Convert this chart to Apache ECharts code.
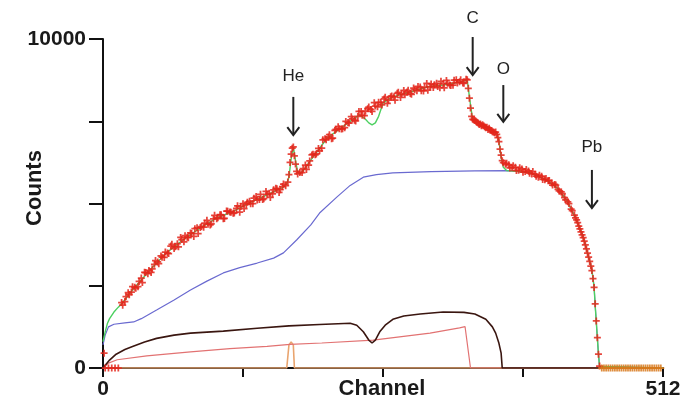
<!DOCTYPE html>
<html>
<head>
<meta charset="utf-8">
<script src="https://cdn.jsdelivr.net/npm/echarts@6/dist/echarts.min.js"></script>
<style>
  html, body { margin: 0; padding: 0; background: #ffffff; }
  #chart { width: 689px; height: 404px; }
</style>
</head>
<body>
<div id="chart"></div>
<script>
// RBS spectrum: measured counts per channel and simulated element contributions.

// Axis ticks (only the ends carry labels)
const xTicks = { min: 0, max: 512, step: 128, labels: ['0', '512'] };
const yTicks = { min: 0, max: 10000, step: 2500, labels: ['0', '10000'] };
const xTitle = 'Channel';
const yTitle = 'Counts';

// Measured spectrum [channel, counts]
const measured = [
  [1,450],[2,0],[5,0],[8,0],[11,0],[14,0],
  [17,1990],[18,1910],[20,2020],[21,2170],[23,2290],[24,2230],[26,2310],[27,2470],[29,2455],[30,2425],
  [32,2470],[33,2630],[35,2735],[36,2595],[38,2910],[39,2900],[41,2865],[42,2965],[44,2905],[45,3010],
  [47,3150],[48,3265],[50,3225],[51,3170],[53,3405],[54,3370],[56,3360],[57,3525],[59,3495],[60,3480],
  [62,3705],[63,3760],[65,3630],[66,3685],[68,3780],[69,3685],[71,3970],[72,3905],[74,3835],[75,4020],
  [77,3975],[78,3960],[80,4105],[81,4090],[83,4000],[84,4235],[86,4260],[87,4085],[89,4270],[90,4300],
  [92,4280],[93,4400],[95,4490],[96,4370],[98,4350],[99,4380],[101,4530],[102,4640],[104,4540],[105,4565],
  [107,4660],[108,4655],[110,4540],[111,4545],[113,4770],[114,4765],[116,4740],[117,4735],[119,4700],
  [120,4715],[122,4850],[123,4930],[125,4735],[126,4910],[128,4995],[129,4845],[131,4970],[132,5035],
  [134,5070],[135,4995],[137,4995],[138,5160],[140,5210],[141,5105],[143,5125],[144,5280],[146,5120],
  [147,5145],[149,5365],[150,5280],[152,5310],[153,5185],[155,5290],[156,5415],[158,5460],[159,5445],
  [161,5335],[162,5420],[164,5515],[165,5590],[167,5540],[169,5650],[170,5880],[171,6250],[172,6500],
  [173,6680],[174,6720],[175,6450],[176,6200],[177,5980],[178,5900],[180,5940],
  [182,5940],[183,6060],[185,6170],[186,6035],[188,6170],[189,6295],[191,6475],[192,6500],[194,6480],
  [195,6505],[197,6675],[198,6600],[200,6680],[201,6935],[203,6970],[204,6935],[206,7025],[207,7090],
  [209,6970],[210,6985],[212,7220],[213,7255],[215,7335],[216,7270],[218,7265],[219,7270],[221,7305],
  [222,7495],[224,7460],[225,7445],[227,7640],[228,7570],[230,7530],[231,7510],[233,7645],[234,7800],
  [236,7800],[237,7680],[239,7670],[240,7810],[242,7880],[243,7930],[245,7860],[246,7800],[248,8065],
  [249,7960],[251,7940],[252,8075],[254,8070],[255,7995],[257,8180],[258,8230],[260,8045],[261,8140],
  [263,8245],[264,8270],[266,8240],[267,8140],[269,8350],[270,8380],[272,8225],[273,8335],[275,8435],
  [276,8305],[278,8390],[279,8440],[281,8340],[282,8320],[284,8510],[285,8460],[287,8430],[288,8560],
  [290,8540],[291,8430],[293,8420],[294,8530],[296,8650],[297,8445],[299,8550],[300,8635],[302,8525],
  [303,8610],[305,8655],[306,8560],[308,8520],[309,8715],[311,8640],[312,8515],[314,8740],[315,8655],
  [317,8605],[318,8590],[320,8595],[321,8750],[323,8760],[324,8665],[326,8700],[327,8760],[329,8665],
  [330,8655],[332,8780],
  [333,8760],[334,8500],[335,8200],[336,7900],[337,7650],[338,7560],[339,7540],[340,7520],[341,7500],
  [342,7470],[343,7450],[344,7400],[345,7420],[346,7360],[347,7390],[348,7360],[349,7330],[350,7300],
  [351,7320],[352,7250],[353,7290],[354,7230],[355,7220],[356,7180],[357,7170],[358,7150],[359,7170],
  [360,7100],[361,7000],[362,6880],[363,6650],[364,6470],[365,6300],[366,6240],[368,6190],[369,6220],
  [371,6180],[372,6080],[374,6090],[375,6150],[377,6100],[378,6000],[380,6010],[381,6090],[383,6050],
  [384,5950],[386,5970],[387,6030],[389,5990],[390,5920],[392,5900],[393,5970],[395,5890],[396,5830],
  [398,5800],[399,5860],[401,5830],[402,5730],[404,5720],[405,5760],[407,5690],[408,5700],[410,5620],
  [411,5560],[413,5580],[414,5560],[416,5430],[417,5380],[419,5350],[420,5300],[422,5180],[423,5110],
  [425,5050],[426,5000],[428,4830],[429,4780],[431,4650],[432,4560],[433,4500],[434,4420],[435,4310],
  [436,4230],[437,4140],[438,4050],[439,3960],[440,3860],[441,3740],[442,3620],[443,3490],[444,3370],
  [445,3240],[446,3100],[447,2960],[448,2720],[449,2450],[450,1950],[451,1430],[452,920],[453,420],
  [454,60],
  [456,0],[458,0],[460,0],[462,0],[464,0],[466,0],[468,0],[470,0],[472,0],[474,0],[476,0],[478,0],
  [480,0],[482,0],[484,0],[486,0],[488,0],[490,0],[492,0],[494,0],[496,0],[498,0],[500,0],[502,0],
  [504,0],[506,0],[508,0],[510,0]
];

// Simulated total spectrum
const simTotal = [
  [0,800],[2,1100],[4,1350],[6,1500],[10,1700],[14,1850],[17,1950],[27,2370],[43,2980],[58,3500],
  [73,3890],[89,4260],[104,4560],[119,4760],[134,5020],[150,5260],[165,5500],[168,5600],[170,5800],
  [172,6350],[174,6720],[176,6300],[178,5950],[180,5900],[183,6000],[192,6410],[205,6990],[219,7330],
  [232,7640],[235,7690],[240,7560],[243,7450],[246,7390],[249,7450],[252,7650],[256,8050],[260,8150],
  [265,8240],[281,8390],[296,8540],[311,8600],[326,8690],[333,8750],[334,8500],[336,8000],[338,7540],
  [351,7300],[360,7140],[362,6900],[364,6400],[366,6100],[369,6000],[375,5990],[390,5940],[406,5700],
  [415,5480],[424,5100],[433,4500],[439,3980],[443,3500],[447,2980],[449,2460],[450,1900],[451,1400],
  [452,900],[453,420],[454,50],[455,0],[512,0]
];

// Simulated Pb contribution
const simPb = [
  [0,700],[2,1000],[5,1250],[10,1330],[20,1370],[28,1400],[35,1500],[49,1760],[65,2070],[80,2370],
  [95,2640],[110,2890],[125,3050],[141,3190],[156,3340],[165,3500],[177,3890],[190,4350],[198,4710],
  [214,5200],[226,5550],[238,5800],[250,5880],[265,5930],[300,5970],[340,5990],[369,6000],[375,5990],
  [390,5940],[406,5700],[415,5480],[424,5100],[433,4500],[439,3980],[443,3500],[447,2980],[449,2460],
  [450,1900],[451,1400],[452,900],[453,420],[454,50],[455,0],[512,0]
];

// Simulated O contribution
const simO = [
  [0,0],[3,120],[6,240],[12,420],[20,560],[27,650],[38,790],[49,900],[65,1000],[80,1060],[110,1120],
  [141,1210],[170,1280],[198,1320],[226,1360],[232,1300],[238,1100],[243,850],[246,760],[249,850],
  [253,1100],[258,1300],[265,1480],[275,1580],[290,1640],[311,1700],[330,1690],[340,1640],[350,1480],
  [356,1250],[359,1060],[362,750],[364,450],[365,0],[512,0]
];

// Simulated C contribution
const simC = [
  [0,0],[5,150],[13,250],[40,370],[80,490],[116,590],[150,660],[171,720],[200,760],[247,850],
  [299,1060],[326,1220],[331,1260],[336,0],[512,0]
];

// Simulated He contribution
const simHe = [
  [0,0],[168,0],[169,0],[170,700],[172,790],[174,700],[175,0],[512,0]
];

// Element markers: label, channel, arrow start/end and label height in counts
const markers = [
  { name: 'He', ch: 174, from: 8240, to: 7080, textAt: 8880 },
  { name: 'C',  ch: 338, from: 10060, to: 8900, textAt: 10620 },
  { name: 'O',  ch: 366, from: 8600, to: 7480, textAt: 9080 },
  { name: 'Pb', ch: 447, from: 6020, to: 4860, textAt: 6700 }
];

const FONT = '"Liberation Sans", Arial, Helvetica, sans-serif';
const plusSymbol = 'path://M3,0H5V3H8V5H5V8H3V5H0V3H3Z';

const chart = echarts.init(document.getElementById('chart'), null, { renderer: 'canvas' });

const option = {
  backgroundColor: '#ffffff',
  animation: false,
  grid: { left: 103, right: 26, top: 39, bottom: 36, containLabel: false, outerBoundsMode: 'none' },
  xAxis: {
    type: 'value',
    min: xTicks.min, max: xTicks.max, interval: xTicks.step,
    axisLine: { onZero: false, lineStyle: { color: '#111111', width: 2 } },
    axisTick: { show: true, length: 9, lineStyle: { color: '#111111', width: 2 } },
    axisLabel: {
      margin: 11,
      fontFamily: FONT, fontWeight: 'bold', fontSize: 21, color: '#1a1a1a',
      formatter: v => (v === xTicks.min ? xTicks.labels[0] : (v === xTicks.max ? xTicks.labels[1] : ''))
    },
    splitLine: { show: false }
  },
  yAxis: {
    type: 'value',
    min: yTicks.min, max: yTicks.max, interval: yTicks.step,
    axisLine: { show: true, lineStyle: { color: '#111111', width: 2 } },
    axisTick: { show: true, length: 14, lineStyle: { color: '#111111', width: 2 } },
    axisLabel: {
      margin: 17,
      fontFamily: FONT, fontWeight: 'bold', fontSize: 21, color: '#1a1a1a',
      formatter: v => (v === yTicks.min ? yTicks.labels[0] : (v === yTicks.max ? yTicks.labels[1] : ''))
    },
    splitLine: { show: false }
  },
  series: [
    {
      name: 'He', type: 'line', data: simHe, showSymbol: false, z: 3,
      lineStyle: { color: '#e9a46e', width: 1.6 }
    },
    {
      name: 'C', type: 'line', data: simC, showSymbol: false, z: 3,
      lineStyle: { color: '#e27272', width: 1.2 }
    },
    {
      name: 'O', type: 'line', data: simO, showSymbol: false, z: 3,
      lineStyle: { color: '#3a1610', width: 1.6 }
    },
    {
      name: 'Pb', type: 'line', data: simPb, showSymbol: false, z: 3,
      lineStyle: { color: '#6a6ad0', width: 1.2 }
    },
    {
      name: 'Simulation', type: 'line', data: simTotal, showSymbol: false, z: 4,
      lineStyle: { color: '#4cd060', width: 1.4 }
    },
    {
      name: 'Measured', type: 'scatter', data: measured, z: 5,
      symbol: plusSymbol, symbolSize: 7,
      itemStyle: {
        color: p => (p.value[1] === 0 && p.value[0] > 400 ? '#d8791c' : '#e3261b'),
        opacity: 0.85
      }
    }
  ]
};

chart.setOption(option);

// Element labels with downward arrows, placed in data coordinates
const graphics = [];
markers.forEach(m => {
  const top = chart.convertToPixel({ gridIndex: 0 }, [m.ch, m.from]);
  const tip = chart.convertToPixel({ gridIndex: 0 }, [m.ch, m.to]);
  const txt = chart.convertToPixel({ gridIndex: 0 }, [m.ch, m.textAt]);
  graphics.push({
    type: 'line', silent: true, z: 10,
    shape: { x1: top[0], y1: top[1], x2: tip[0], y2: tip[1] - 1 },
    style: { stroke: '#222222', lineWidth: 2 }
  });
  graphics.push({
    type: 'polyline', silent: true, z: 10,
    shape: { points: [[tip[0] - 6, tip[1] - 8], [tip[0], tip[1]], [tip[0] + 6, tip[1] - 8]] },
    style: { stroke: '#222222', lineWidth: 2, fill: null }
  });
  graphics.push({
    type: 'text', silent: true, z: 10,
    x: txt[0], y: txt[1],
    style: {
      text: m.name, fill: '#222222',
      font: '17px ' + FONT,
      align: 'center', verticalAlign: 'middle'
    }
  });
});

// Axis titles
const xTitlePos = chart.convertToPixel({ gridIndex: 0 }, [(xTicks.min + xTicks.max) / 2, 0]);
graphics.push({
  type: 'text', silent: true, z: 10,
  x: xTitlePos[0] - 1, y: xTitlePos[1] + 21,
  style: {
    text: xTitle, fill: '#1a1a1a',
    font: 'bold 22px ' + FONT,
    align: 'center', verticalAlign: 'middle'
  }
});
graphics.push({
  type: 'text', silent: true, z: 10,
  x: 35, y: 188, rotation: Math.PI / 2,
  style: {
    text: yTitle, fill: '#1a1a1a',
    font: 'bold 22px ' + FONT,
    align: 'center', verticalAlign: 'middle'
  }
});

chart.setOption({ graphic: graphics });
</script>
</body>
</html>
